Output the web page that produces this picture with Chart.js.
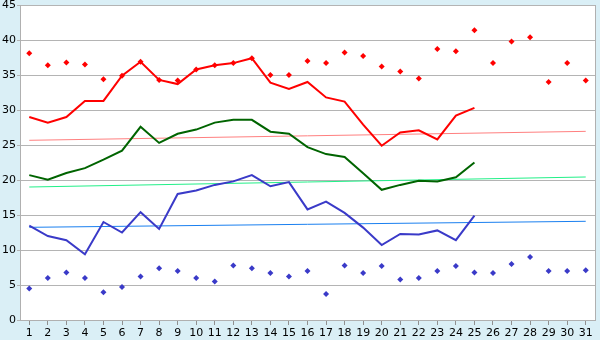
<!DOCTYPE html>
<html>
<head>
<meta charset="utf-8">
<script src="https://cdn.jsdelivr.net/npm/chart.js@4/dist/chart.umd.min.js"></script>
<style>
  html, body { margin: 0; padding: 0; background: #daeff6; }
  canvas { display: block; }
</style>
</head>
<body>
<canvas id="canvass" width="600" height="340"></canvas>
<script>
var days = [];
for (var d = 1; d <= 31; d++) days.push(String(d));

// daily maximum points
var maxPts = [38.1, 36.4, 36.8, 36.5, 34.4, 34.9, 36.9, 34.3, 34.2, 35.8,
              36.4, 36.7, 37.4, 35.0, 35.0, 37.0, 36.7, 38.2, 37.7, 36.2,
              35.5, 34.5, 38.7, 38.4, 41.4, 36.7, 39.8, 40.4, 34.0, 36.7, 34.2];
// daily minimum points
var minPts = [4.5, 6.0, 6.8, 6.0, 3.95, 4.7, 6.2, 7.4, 7.0, 6.0,
              5.5, 7.8, 7.4, 6.7, 6.2, 7.0, 3.7, 7.8, 6.7, 7.7,
              5.8, 6.0, 7.0, 7.7, 6.8, 6.7, 8.0, 9.0, 7.0, 7.0, 7.1];
// running lines (day 1-25)
var maxLine = [29.0, 28.2, 29.0, 31.3, 31.3, 34.9, 36.9, 34.3, 33.7, 35.8,
               36.4, 36.7, 37.4, 33.9, 33.0, 34.0, 31.8, 31.2, 27.9, 24.9,
               26.8, 27.1, 25.8, 29.2, 30.3];
var meanLine = [20.7, 20.05, 21.0, 21.7, 22.9, 24.2, 27.6, 25.3, 26.6, 27.2,
                28.2, 28.6, 28.6, 26.9, 26.6, 24.7, 23.7, 23.3, 20.95, 18.6,
                19.3, 19.9, 19.8, 20.4, 22.5];
var minLine = [13.47, 12.0, 11.4, 9.4, 14.0, 12.5, 15.4, 13.0, 18.0, 18.5,
               19.3, 19.8, 20.7, 19.1, 19.7, 15.8, 16.9, 15.3, 13.2, 10.7,
               12.3, 12.2, 12.8, 11.4, 14.9];
// trend lines: value at day 1 and day 31
var maxTrend = [25.67, 26.95];
var meanTrend = [19.0, 20.43];
var minTrend = [13.24, 14.1];
var yTicks = [0, 5, 10, 15, 20, 25, 30, 35, 40, 45];

function trend(ends) {
    var arr = [];
    for (var i = 0; i < days.length; i++) arr.push(null);
    arr[0] = ends[0];
    arr[days.length - 1] = ends[1];
    return arr;
}

function lineSet(data, color, width) {
    return { type: 'line', data: data, borderColor: color, backgroundColor: color,
             borderWidth: width, pointRadius: 0, tension: 0, spanGaps: true };
}
function pointSet(data, color) {
    return { type: 'line', data: data, showLine: false, pointStyle: 'rectRot',
             pointRadius: 3, pointBorderWidth: 0, borderColor: color,
             backgroundColor: color, pointBackgroundColor: color };
}

var plotBg = {
    id: 'plotBg',
    beforeDraw: function (chart) {
        var a = chart.chartArea, c = chart.ctx;
        c.save();
        c.fillStyle = '#ffffff';
        c.fillRect(a.left, a.top, a.right - a.left, a.bottom - a.top);
        c.restore();
    },
    afterDraw: function (chart) {
        var a = chart.chartArea, c = chart.ctx;
        c.save();
        c.strokeStyle = '#b0b0b0';
        c.lineWidth = 1;
        c.beginPath();
        c.moveTo(a.right + 0.5, a.top);
        c.lineTo(a.right + 0.5, a.bottom);
        c.stroke();
        c.restore();
    }
};

try {
    var ctx = document.getElementById('canvass').getContext('2d');
    var myChart = new Chart(ctx, {
        type: 'line',
        data: {
            labels: days,
            datasets: [
                pointSet(maxPts, '#ff0000'),
                pointSet(minPts, '#3a3ac8'),
                lineSet(maxLine, '#ff0000', 2),
                lineSet(meanLine, '#006400', 2),
                lineSet(minLine, '#3a3ac8', 2),
                lineSet(trend(maxTrend), '#ff8080', 1),
                lineSet(trend(meanTrend), '#22f088', 1),
                lineSet(trend(minTrend), '#1a80f0', 1)
            ]
        },
        options: {
            responsive: false,
            animation: false,
            layout: { padding: { top: 5, right: 5, left: 0, bottom: 0 } },
            plugins: { legend: { display: false }, tooltip: { enabled: false } },
            scales: {
                x: {
                    offset: true,
                    grid: { offset: false, drawOnChartArea: false, drawTicks: true,
                            tickLength: 5, color: '#909090' },
                    border: { color: '#b0b0b0' },
                    ticks: { color: '#000', font: { family: 'DejaVu Sans', size: 11 },
                             padding: 2, maxRotation: 0, autoSkip: false },
                    afterFit: function (s) { s.height = 20; s.paddingLeft = 0; s.paddingRight = 0; }
                },
                y: {
                    min: 0, max: 45,
                    afterBuildTicks: function (s) {
                        s.ticks = yTicks.map(function (v) { return { value: v }; });
                    },
                    grid: { color: '#b4b4b4', tickLength: 3 },
                    border: { color: '#b0b0b0' },
                    ticks: { color: '#000', font: { family: 'DejaVu Sans', size: 11 },
                             padding: 1 },
                    afterFit: function (s) { s.width = 20; s.paddingTop = 0; s.paddingBottom = 0; }
                }
            }
        },
        plugins: [plotBg]
    });
} catch (e) {
    console.log('We have encountered an error: ' + e);
}
</script>
</body>
</html>
